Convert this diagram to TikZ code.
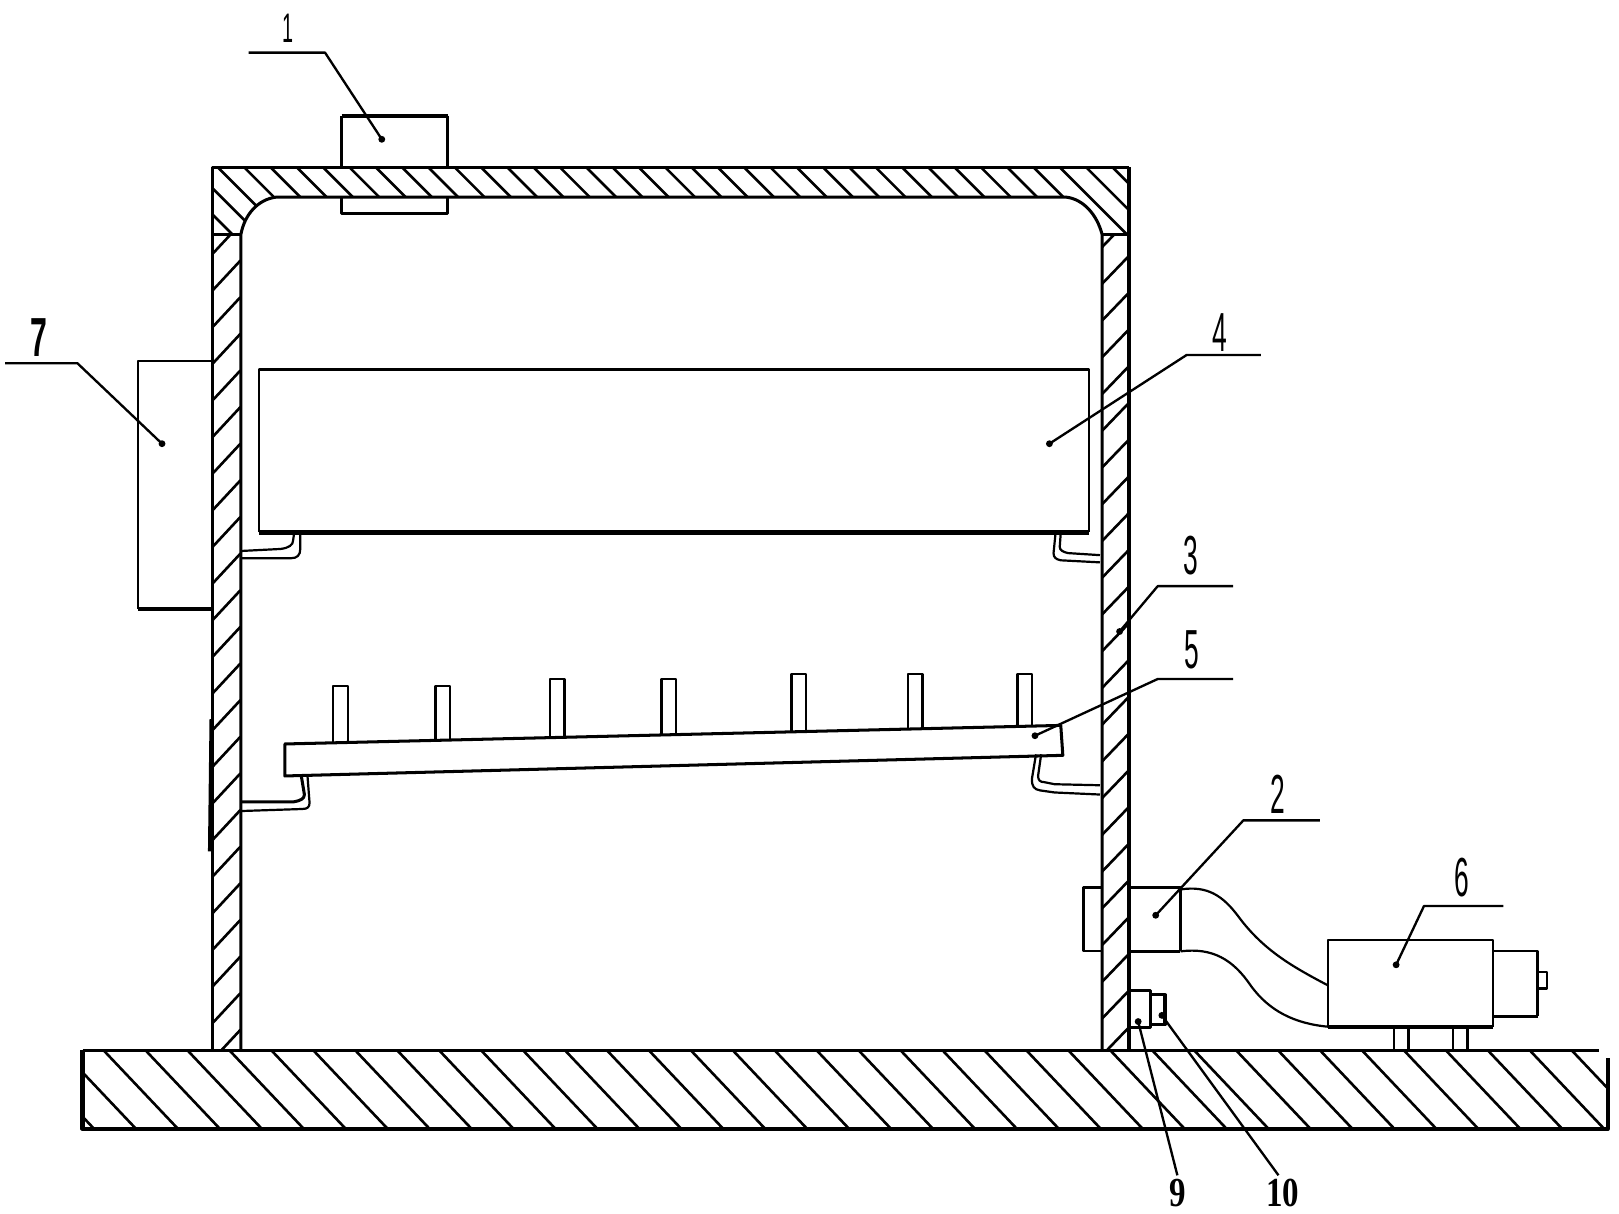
\documentclass[tikz,border=0pt]{standalone}
\usepackage{fontspec}
\newfontfamily\calloutfont[FakeStretch=0.48]{Liberation Sans}
\newfontfamily\calloutheavy[FakeStretch=0.55]{Liberation Sans Bold}
\newfontfamily\calloutbold[FakeStretch=0.8]{Liberation Serif Bold}
\tikzset{every picture/.style={line width=0.75pt}}
\tikzset{
  heavyline/.style={line width=3pt,line join=round},
  outline/.style={line width=2.2pt,line join=round},
  thinline/.style={line width=1.6pt,line join=round},
  hatchline/.style={line width=1.9pt},
  leader/.style={line width=1.7pt,line join=round},
  leaderdot/.style={circle,fill=black,inner sep=0pt,minimum size=5pt},
  callout/.style={inner sep=0pt,font=\calloutfont\fontsize{40}{40}\selectfont},
  calloutb/.style={inner sep=0pt,font=\calloutbold\fontsize{30}{30}\selectfont}
}

\begin{document}
\begin{tikzpicture}[x=0.75pt,y=0.75pt,yscale=-1,xscale=1]
\useasboundingbox (0,0) rectangle (1569,1176);

%Hatching: top band
\begin{scope}
\clip (206,162) -- (1094,162) -- (1094,227) -- (1068,227) .. controls (1063,208) and (1050,193) .. (1033,191) -- (268,191) .. controls (250,193) and (237,208) .. (233,227) -- (206,227) -- cycle;
\foreach \k in {0,...,38}
  \draw[hatchline] ({160+25.5*\k},162) -- ({160+25.5*\k+70},232);
\end{scope}
%Hatching: left wall
\begin{scope}
\clip (206,227) rectangle (233,1018);
\foreach \k in {-9,...,14}
  \draw[hatchline] (206,{530+35.5*\k}) -- (233,{501+35.5*\k});
\end{scope}
%Hatching: right wall
\begin{scope}
\clip (1068,227) rectangle (1094,1018);
\foreach \k in {0,...,22}
  \draw[hatchline] (1068,{239.5+35.6*\k}) -- (1094,{212.5+35.6*\k});
\end{scope}
%Hatching: base
\begin{scope}
\clip (80,1018) rectangle (1558,1094);
\foreach \k in {-3,...,35}
  \draw[hatchline] ({172.5+40.65*\k},1094) -- ({100.5+40.65*\k},1018);
\end{scope}

%Shape: Housing
\draw[outline] (206,1018) -- (206,162) -- (1094,162);
\draw[heavyline] (1094,162) -- (1094,1018);
\draw[outline] (233.5,1018) -- (233.5,227) .. controls (237,208) and (250,193) .. (268,191) -- (1033,191) .. controls (1050,193) and (1063,208) .. (1068,227) -- (1068,1018);
\draw[outline] (206,227) -- (233,227);
\draw[outline] (1068,227) -- (1094,227);
\draw[outline] (204.5,697) -- (203,825);
%Shape: Base
\draw[heavyline] (80,1018) -- (80,1094) -- (1558,1094) -- (1558,1025);
\draw[outline] (80,1018) -- (1550,1018);

%Shape: Top fitting
\draw[outline] (331,162) -- (331,112);
\draw[heavyline] (331,112) -- (434,112);
\draw[outline] (434,112) -- (434,162);
\draw[outline] (331,191) -- (331,207) -- (434,207) -- (434,191);
%Shape: Side box
\draw[thinline] (206,350) -- (134,350) -- (134,590);
\draw[heavyline] (134,590) -- (206,590);
%Shape: Container
\draw[thinline] (251,516) -- (251,358) -- (1055,358) -- (1055,516);
\draw[heavyline] (251,516) -- (1055,516);

%Shape: Brackets
\draw[thinline] (233,541) -- (282,541) .. controls (288,541) and (291,538) .. (291,532) -- (291,517);
\draw[thinline] (233,534) -- (272,532) .. controls (280,531) and (284,528) .. (284,524) -- (285,517);
\draw[thinline] (1066,545) -- (1028,543) .. controls (1023,542) and (1021,540) .. (1021,536) -- (1023,516);
\draw[thinline] (1066,538) -- (1035,536) .. controls (1030,535) and (1027,533) .. (1027,530) -- (1028,516);
\draw[thinline] (233,786) -- (293,784) .. controls (298,784) and (300,782) .. (300,778) -- (298,752);
\draw[outline] (233,777) -- (285,777) .. controls (291,776) and (295,774) .. (295,770) -- (292,752);
\draw[thinline] (1066,770) -- (1022,768) -- (1008,766) .. controls (1002,765) and (1000,762) .. (1000,755) -- (1004,731);
\draw[thinline] (1066,761) -- (1022,760) -- (1012,758) .. controls (1008,758) and (1006,756) .. (1006,752) -- (1009,731);

%Shape: Shelf
\draw[outline] (276,721) -- (1028,703) -- (1030,732) -- (276,752) -- cycle;
%Shape: Pins
\foreach \pinx/\pintop/\pinlow in {323/665/720,422/665/717,533/658/714,641/658/712,767/653/708,880/653/706,986/653/703}
  \draw[thinline] (\pinx,\pinlow) -- (\pinx,\pintop) -- ({\pinx+14},\pintop) -- ({\pinx+14},\pinlow);

%Shape: Duct and flange
\draw[thinline] (1067,860) -- (1050,860) -- (1050,922) -- (1067,922);
\draw[thinline] (1094,860) -- (1144,860) -- (1144,922);
\draw[outline] (1094,922) -- (1144,922);
\draw[thinline] (1144,862) .. controls (1170,858) and (1185,868) .. (1200,888) .. controls (1225,922) and (1255,938) .. (1287,955);
\draw[thinline] (1144,922) .. controls (1175,918) and (1195,930) .. (1212,955) .. controls (1230,980) and (1255,992) .. (1287,995);
%Shape: Motor
\draw[thinline] (1287,995) -- (1287,911) -- (1447,911) -- (1447,995);
\draw[heavyline] (1287,995) -- (1447,995);
\draw[thinline] (1447,922) -- (1490,922) -- (1490,985);
\draw[outline] (1490,985) -- (1447,985);
\draw[thinline] (1490,942) -- (1499,942) -- (1499,958) -- (1490,958);
\draw[thinline] (1351,995) -- (1351,1018);
\draw[outline] (1365,995) -- (1365,1018);
\draw[thinline] (1408,995) -- (1408,1018);
\draw[outline] (1422,995) -- (1422,1018);
%Shape: Small boxes
\draw[outline] (1094,960) -- (1115,960) -- (1115,996) -- (1094,996);
\draw[outline] (1115,964) -- (1129,964) -- (1129,993) -- (1115,993);

%Callout labels
\node[callout,font=\calloutfont\fontsize{30}{30}\selectfont] (lab1) at (279,27) {1};
\node[callout,font=\calloutheavy\fontsize{40}{40}\selectfont] (lab7) at (38,327) {7};
\node[callout] (lab4) at (1182,322) {4};
\node[callout] (lab3) at (1154,538) {3};
\node[callout] (lab5) at (1155,630) {5};
\node[callout] (lab2) at (1238,770) {2};
\node[callout] (lab6) at (1417,850) {6};
\node[calloutb] (lab9) at (1141,1156) {9};
\node[calloutb] (lab10) at (1243,1156) {10};

%Leaders
\node[leaderdot] (dot1) at (370,135) {};
\node[leaderdot] (dot7) at (157,430) {};
\node[leaderdot] (dot4) at (1017,430) {};
\node[leaderdot] (dot3) at (1085,612) {};
\node[leaderdot] (dot5) at (1003,713) {};
\node[leaderdot] (dot2) at (1120,887) {};
\node[leaderdot] (dot6) at (1353,935) {};
\node[leaderdot] (dot9) at (1103,990) {};
\node[leaderdot] (dot10) at (1126,984) {};
\coordinate (end1) at (241,51);
\coordinate (end7) at (5,352);
\coordinate (end4) at (1222,344);
\coordinate (end3) at (1195,568);
\coordinate (end5) at (1195,658);
\coordinate (end2) at (1279,795);
\coordinate (end6) at (1457,878);
\coordinate (end9) at (1141,1139);
\coordinate (end10) at (1239,1139);
\draw[leader] (end1) -- (315,51) -- (dot1.center);
\draw[leader] (end7) -- (75,352) -- (dot7.center);
\draw[leader] (end4) -- (1150,344) -- (dot4.center);
\draw[leader] (end3) -- (1122,568) -- (dot3.center);
\draw[leader] (end5) -- (1122,658) -- (dot5.center);
\draw[leader] (end2) -- (1205,795) -- (dot2.center);
\draw[leader] (end6) -- (1380,878) -- (dot6.center);
\draw[leader] (dot9.center) -- (end9);
\draw[leader] (dot10.center) -- (end10);

\end{tikzpicture}
\end{document}
